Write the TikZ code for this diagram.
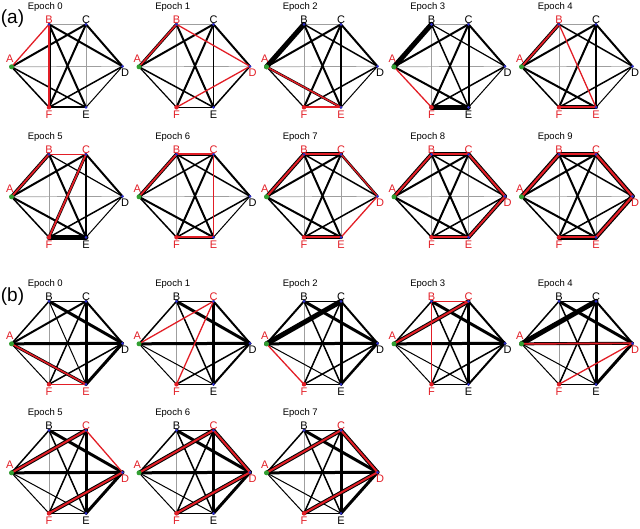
\documentclass[tikz,border=0pt]{standalone}
\usepackage{fontspec}
\setmainfont{Liberation Sans}
\pgfdeclarelayer{bg}
\pgfsetlayers{bg,main}
\definecolor{lr}{RGB}{226,30,38}
\colorlet{lk}{black}
\definecolor{dotblue}{RGB}{45,45,200}
\definecolor{dotgreen}{RGB}{50,160,50}
\tikzset{
  vdot/.style={circle, inner sep=0pt, minimum size=3pt, fill=dotblue},
  adot/.style={circle, inner sep=0pt, minimum size=5pt, fill=dotgreen},
  fdot/.style={circle, inner sep=0pt, minimum size=4.5pt, fill=lr},
  vlab/.style={inner sep=0pt, font=\fontsize{11}{11}\selectfont},
  ttl/.style={inner sep=0pt, anchor=base, font=\fontsize{9.5}{9.5}\selectfont},
  gedge/.style={line width=0.7pt, gray!75},
  bedge/.style={line cap=round, black},
  redge/.style={line cap=round, lr},
  plab/.style={inner sep=0pt, font=\fontsize{19}{19}\selectfont},
}
\newcommand\panel[9]{%
 \begin{scope}[shift={(#2)}]
  \node[ttl] (#1t) at (-3.7,-15.3) {#3};
  \node[adot] (#1A) at (-37.5,42.5) {};
  \node[vdot] (#1B) at (0,0) {};
  \node[vdot] (#1C) at (37,0) {};
  \node[vdot] (#1D) at (73.5,42) {};
  \node[vdot] (#1E) at (37,83) {};
  \node[fdot] (#1F) at (0,83) {};
  \node[vlab, text=#4] (#1la) at (-39.3,34.9) {A};
  \node[vlab, text=#5] (#1lb) at (0,-4.8) {B};
  \node[vlab, text=#6] (#1lc) at (37,-4.8) {C};
  \node[vlab, text=#7] (#1ld) at (76,48.7) {D};
  \node[vlab, text=#8] (#1le) at (37,90.9) {E};
  \node[vlab, text=#9] (#1lf) at (0,90.9) {F};
 \end{scope}}
\newcommand\gr[2]{\begin{pgfonlayer}{bg}\foreach \u/\v in {#2}{\draw[gedge] (#1\u.center) -- (#1\v.center);}\end{pgfonlayer}}
\newcommand\bk[2]{\begin{pgfonlayer}{bg}\foreach \u/\v/\w in {#2}{\draw[bedge, line width=\w pt] (#1\u.center) -- (#1\v.center);}\end{pgfonlayer}}
\newcommand\rd[2]{\begin{pgfonlayer}{bg}\foreach \u/\v/\w in {#2}{\draw[redge, line width=\w pt] (#1\u.center) -- (#1\v.center);}\end{pgfonlayer}}
\begin{document}
\begin{tikzpicture}[x=1pt,y=-1pt]
\useasboundingbox (0,0) rectangle (640,528);
\node[plab] (pa) at (12.5,19) {(a)};
\node[plab] (pb) at (12.5,297) {(b)};
% ---------- (a) row 1
\panel{a0}{49,24.3}{Epoch 0}{lr}{lr}{lk}{lk}{lk}{lr}
\gr{a0}{A/D,B/C,C/E}
\bk{a0}{A/C/2,A/E/1.5,A/F/1.5,B/D/2,B/E/2,B/F/3,C/D/2,C/F/2,D/E/1,D/F/1.5,E/F/2}
\rd{a0}{A/B/1.3,B/F/1.6}
\panel{a1}{176.5,24.3}{Epoch 1}{lr}{lr}{lk}{lr}{lk}{lr}
\gr{a1}{A/D,B/C,B/F}
\bk{a1}{A/B/3,A/C/2,A/E/1.5,A/F/1.2,B/E/2,C/D/2,C/E/1.5,C/F/2,D/E/1.5,E/F/1.5}
\rd{a1}{A/B/1.6,B/D/1.3,D/F/1.3}
\panel{a2}{304,24.3}{Epoch 2}{lr}{lk}{lk}{lk}{lr}{lr}
\gr{a2}{A/D,B/C,B/F}
\bk{a2}{A/B/5,A/C/2,A/E/2.5,A/F/1.2,B/D/1.5,B/E/2,C/D/2,C/E/2,C/F/2,D/E/1,D/F/1.5,E/F/2}
\rd{a2}{A/E/1.5,E/F/1.8}
\panel{a3}{431.5,24.3}{Epoch 3}{lr}{lk}{lk}{lk}{lk}{lr}
\gr{a3}{A/D,B/C,B/F}
\bk{a3}{A/B/5,A/C/2,A/E/2,B/D/1.2,B/E/1.5,C/D/2,C/E/2,C/F/2,D/E/1,D/F/1.5,E/F/4.5}
\rd{a3}{A/F/1.3}
\panel{a4}{559,24.3}{Epoch 4}{lr}{lr}{lk}{lk}{lr}{lr}
\gr{a4}{A/D,B/C,B/F}
\bk{a4}{A/B/3.5,A/C/2,A/E/2,A/F/1.5,B/D/1.5,C/D/2,C/E/2,C/F/2,D/E/1,D/F/1.5,E/F/4}
\rd{a4}{A/B/1.8,B/E/1.3,E/F/2}
% ---------- (a) row 2
\panel{a5}{49,154.3}{Epoch 5}{lr}{lr}{lr}{lk}{lk}{lr}
\gr{a5}{A/D,B/F}
\bk{a5}{A/B/3.5,A/C/2,A/E/2,A/F/1.5,B/D/1.2,B/E/2,C/D/2,C/E/1.2,C/F/3,D/E/1,D/F/1.5,E/F/5}
\rd{a5}{A/B/1.8,B/C/1.3,C/F/1.8}
\panel{a6}{176.5,154.3}{Epoch 6}{lr}{lr}{lr}{lk}{lr}{lr}
\gr{a6}{A/D,B/F}
\bk{a6}{A/B/3.5,A/C/1.5,A/E/2,A/F/1.5,B/C/3.5,B/D/1.5,B/E/2,C/D/2,C/F/2,D/E/1,D/F/1.5,E/F/3.5}
\rd{a6}{A/B/1.8,B/C/1.8,C/E/1.3,E/F/1.8}
\panel{a7}{304,154.3}{Epoch 7}{lr}{lr}{lr}{lr}{lr}{lr}
\gr{a7}{A/D,B/F,C/E}
\bk{a7}{A/B/4,A/C/2,A/E/2,A/F/1.5,B/C/4,B/D/1.5,B/E/2,C/D/2.5,C/F/2,D/F/1.5,E/F/4}
\rd{a7}{A/B/2,B/C/2,C/D/1.3,D/E/1.3,E/F/2}
\panel{a8}{431.5,154.3}{Epoch 8}{lr}{lr}{lr}{lr}{lr}{lr}
\gr{a8}{A/D,B/F,C/E}
\bk{a8}{A/B/4,A/C/2,A/E/2,A/F/1.5,B/C/4,B/D/1.5,B/E/2,C/D/4,C/F/2,D/E/4,D/F/1.5,E/F/4}
\rd{a8}{A/B/2,B/C/2,C/D/2,D/E/2,E/F/2}
\panel{a9}{559,154.3}{Epoch 9}{lr}{lr}{lr}{lr}{lr}{lr}
\gr{a9}{A/D,B/F,C/E}
\bk{a9}{A/B/4.5,A/C/2,A/E/2,A/F/1.5,B/C/4.5,B/D/1.5,B/E/2,C/D/4.5,C/F/2,D/E/4.5,D/F/1.5,E/F/4.5}
\rd{a9}{A/B/2.2,B/C/2.2,C/D/2.2,D/E/2.2,E/F/2.2}
% ---------- (b) row 1
\panel{b0}{49,301.3}{Epoch 0}{lr}{lk}{lk}{lk}{lr}{lr}
\gr{b0}{B/F}
\bk{b0}{A/B/1.5,A/C/2,A/D/3,A/E/3,A/F/1,B/C/0.8,B/D/3,B/E/1,C/D/2,C/E/3,C/F/1.5,D/E/3,D/F/1.5}
\rd{b0}{A/E/1.6,E/F/1.3}
\panel{b1}{176.5,301.3}{Epoch 1}{lr}{lk}{lr}{lk}{lk}{lr}
\gr{b1}{B/F}
\bk{b1}{A/B/1.5,A/D/3,A/E/1,A/F/1,B/C/0.8,B/D/3,B/E/1.5,C/D/2,C/E/3,D/E/2,D/F/1.5,E/F/1.5}
\rd{b1}{A/C/1.3,C/F/1.3}
\panel{b2}{304,301.3}{Epoch 2}{lr}{lk}{lk}{lk}{lk}{lr}
\gr{b2}{B/F}
\bk{b2}{A/B/2,A/C/5,A/D/3,A/E/1,B/C/0.8,B/D/3,B/E/1.5,C/D/2,C/E/3,C/F/1.5,D/E/2.5,D/F/1.5,E/F/1.5}
\rd{b2}{A/F/1.3}
\panel{b3}{431.5,301.3}{Epoch 3}{lr}{lr}{lr}{lk}{lk}{lr}
\bk{b3}{A/B/1.5,A/C/4,A/D/3,A/E/1,A/F/1,B/D/3,B/E/1.5,C/D/2,C/E/3,C/F/1.5,D/E/2,D/F/1.5,E/F/1.5}
\rd{b3}{A/C/2,B/C/1.3,B/F/1.3}
\panel{b4}{559,301.3}{Epoch 4}{lr}{lk}{lk}{lr}{lk}{lr}
\gr{b4}{B/F}
\bk{b4}{A/B/1.5,A/C/5,A/D/3,A/E/1,A/F/1,B/C/0.8,B/D/3,B/E/1.5,C/D/2,C/E/3,C/F/1.5,D/E/3,E/F/1.5}
\rd{b4}{A/D/1.7,D/F/1.3}
% ---------- (b) row 2
\panel{b5}{49,430.3}{Epoch 5}{lr}{lk}{lr}{lr}{lk}{lr}
\gr{b5}{B/F}
\bk{b5}{A/B/1.5,A/C/4,A/D/3,A/E/1,A/F/1,B/C/0.8,B/D/3,B/E/1.5,C/E/3,C/F/1.5,D/E/3,D/F/4,E/F/1.5}
\rd{b5}{A/C/2,C/D/1.3,D/F/2}
\panel{b6}{176.5,430.3}{Epoch 6}{lr}{lk}{lr}{lr}{lk}{lr}
\gr{b6}{B/F}
\bk{b6}{A/B/1.5,A/C/4,A/D/3,A/E/1,A/F/1,B/C/0.8,B/D/3,B/E/1.5,C/D/4,C/E/3,C/F/1.5,D/E/3,D/F/4,E/F/1.5}
\rd{b6}{A/C/2,C/D/2,D/F/2}
\panel{b7}{304,430.3}{Epoch 7}{lr}{lk}{lr}{lr}{lk}{lr}
\gr{b7}{B/F}
\bk{b7}{A/B/1.5,A/C/4,A/D/3,A/E/1,A/F/1,B/C/0.8,B/D/3,B/E/1.5,C/D/4,C/E/3,C/F/1.5,D/E/3,D/F/4,E/F/1.5}
\rd{b7}{A/C/2,C/D/2,D/F/2}
\end{tikzpicture}
\end{document}
